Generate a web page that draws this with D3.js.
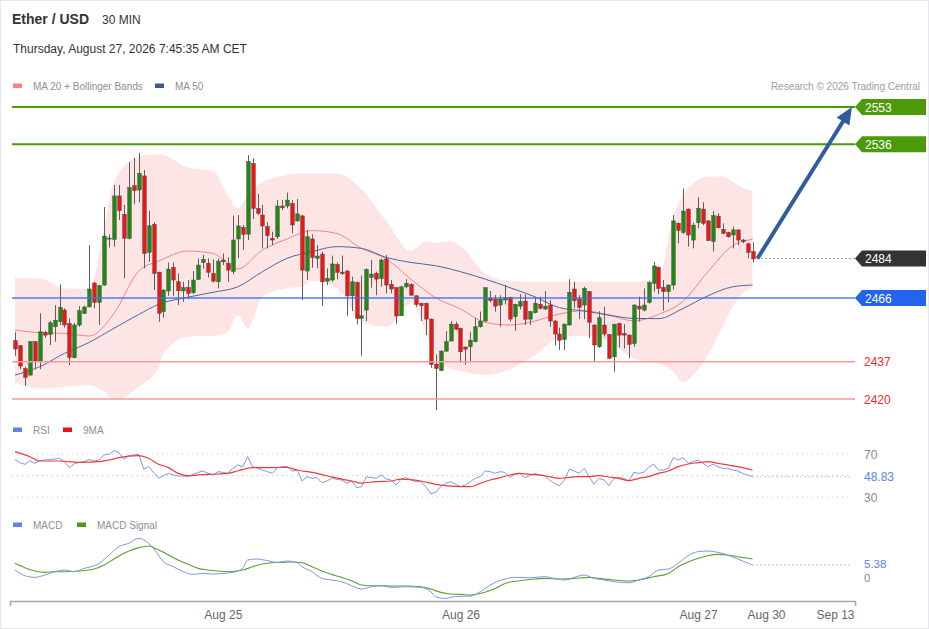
<!DOCTYPE html>
<html lang="en">
<head>
    <meta charset="UTF-8">
    <title>Ether / USD 30 MIN</title>
    <script src="https://d3js.org/d3.v7.min.js"></script>
    <style>
        body { margin: 0; background: #fff; }
        svg { font-family: "Liberation Sans", Arial, sans-serif; display: block; }
    </style>
</head>
<body>
    <div id="chart"></div>
    <script>
        // 30 min candles
        const open = [
            2446.6, 2444.3, 2433.9, 2430.9, 2446.1, 2437.4, 2450.2, 2449.4, 2452.9, 2455.2,
            2460.5, 2454.4, 2438.8, 2453.7, 2459.0, 2462.0, 2472.8, 2464.0, 2471.9, 2492.9,
            2492.7, 2512.5, 2504.1, 2493.2, 2517.2, 2515.2, 2521.6, 2486.8, 2499.5, 2477.7,
            2459.8, 2469.2, 2480.0, 2473.4, 2469.2, 2470.8, 2468.4, 2474.5, 2482.2, 2481.8,
            2477.2, 2473.4, 2483.3, 2481.8, 2478.0, 2492.9, 2498.2, 2495.1, 2527.3, 2506.8,
            2503.8, 2498.5, 2493.2, 2493.9, 2507.9, 2507.9, 2509.1, 2501.1, 2503.4, 2478.3,
            2492.9, 2484.1, 2486.0, 2473.7, 2474.2, 2481.3, 2477.8, 2478.3, 2467.0, 2473.1,
            2456.7, 2460.5, 2475.4, 2477.2, 2474.9, 2483.8, 2472.2, 2470.7, 2457.9, 2471.1,
            2472.2, 2467.0, 2463.5, 2463.5, 2456.4, 2435.9, 2432.9, 2441.8, 2446.4, 2454.1,
            2452.2, 2443.7, 2443.8, 2446.1, 2452.9, 2455.5, 2465.8, 2465.5, 2462.8, 2465.1,
            2466.3, 2457.5, 2462.3, 2464.6, 2456.4, 2459.3, 2463.1, 2461.0, 2462.8, 2455.5,
            2449.6, 2447.1, 2453.7, 2470.1, 2465.5, 2462.8, 2468.9, 2453.7, 2443.8, 2453.7,
            2449.4, 2439.2, 2454.4, 2449.9, 2449.1, 2445.3, 2462.3, 2460.5, 2464.0, 2472.7,
            2480.0, 2470.8, 2468.9, 2471.9, 2500.0, 2495.9, 2506.5, 2492.4, 2500.3, 2506.5,
            2501.1, 2491.7, 2503.3, 2497.3, 2495.8, 2494.7, 2497.0, 2492.4, 2490.7, 2487.1
        ];
        const high = [
            2450.4, 2444.6, 2434.7, 2446.4, 2446.4, 2459.0, 2451.1, 2455.5, 2462.8, 2472.2,
            2461.3, 2456.7, 2454.7, 2462.3, 2462.5, 2490.1, 2473.4, 2471.9, 2507.4, 2495.0,
            2517.5, 2517.5, 2508.4, 2527.8, 2529.9, 2532.1, 2524.3, 2505.8, 2500.5, 2478.0,
            2470.1, 2482.2, 2482.2, 2477.2, 2473.4, 2474.2, 2478.3, 2484.0, 2485.6, 2484.0,
            2483.6, 2484.0, 2486.3, 2484.5, 2503.5, 2503.8, 2499.3, 2531.1, 2529.6, 2513.4,
            2508.4, 2500.5, 2496.2, 2510.6, 2510.6, 2514.0, 2510.6, 2511.1, 2503.8, 2497.0,
            2495.0, 2490.1, 2487.1, 2479.5, 2485.3, 2482.2, 2485.3, 2478.7, 2475.7, 2473.4,
            2476.2, 2479.5, 2483.3, 2478.0, 2484.0, 2485.6, 2474.2, 2471.1, 2471.6, 2474.6,
            2472.7, 2467.3, 2463.9, 2463.9, 2456.7, 2440.3, 2442.3, 2450.9, 2455.5, 2455.2,
            2452.5, 2443.8, 2450.6, 2457.0, 2459.8, 2470.8, 2469.2, 2467.3, 2467.3, 2471.9,
            2466.6, 2463.4, 2467.8, 2467.6, 2460.2, 2466.6, 2466.6, 2469.2, 2465.1, 2456.0,
            2452.5, 2454.4, 2474.6, 2473.4, 2467.3, 2471.1, 2469.2, 2454.0, 2460.0, 2462.0,
            2449.6, 2454.4, 2454.7, 2454.1, 2449.4, 2463.1, 2466.6, 2470.4, 2473.7, 2482.5,
            2480.3, 2474.2, 2472.2, 2503.8, 2500.5, 2515.9, 2506.8, 2500.3, 2511.9, 2509.6,
            2501.5, 2505.6, 2504.6, 2500.0, 2496.2, 2498.5, 2497.3, 2492.9, 2491.2, 2491.4
        ];
        const low = [
            2439.7, 2433.6, 2426.0, 2430.6, 2433.6, 2433.6, 2447.9, 2444.6, 2446.1, 2453.7,
            2452.5, 2435.4, 2438.5, 2452.9, 2458.7, 2461.6, 2461.3, 2453.7, 2471.6, 2489.0,
            2489.4, 2501.5, 2475.0, 2492.7, 2508.7, 2509.6, 2479.5, 2482.5, 2469.6, 2455.2,
            2457.0, 2467.0, 2467.0, 2462.8, 2464.3, 2465.5, 2467.8, 2474.2, 2479.5, 2475.4,
            2473.0, 2470.4, 2481.0, 2473.4, 2476.8, 2484.1, 2487.9, 2492.4, 2502.0, 2503.8,
            2488.6, 2488.6, 2490.1, 2492.9, 2506.1, 2506.8, 2495.5, 2500.8, 2465.1, 2474.2,
            2479.8, 2479.5, 2462.5, 2471.9, 2473.4, 2474.5, 2476.5, 2457.9, 2460.1, 2454.0,
            2439.7, 2455.5, 2470.7, 2467.3, 2471.1, 2468.1, 2468.1, 2454.1, 2457.8, 2470.4,
            2467.0, 2462.0, 2455.5, 2449.1, 2434.2, 2414.9, 2432.7, 2441.5, 2446.1, 2451.4,
            2436.7, 2435.7, 2437.3, 2445.8, 2452.5, 2455.2, 2464.0, 2459.8, 2452.9, 2463.1,
            2455.2, 2451.1, 2460.8, 2453.7, 2453.7, 2459.0, 2460.8, 2460.5, 2452.9, 2444.3,
            2442.3, 2442.3, 2453.4, 2461.3, 2456.4, 2456.4, 2447.6, 2437.0, 2443.3, 2448.4,
            2438.2, 2432.4, 2443.5, 2443.0, 2438.5, 2443.8, 2455.2, 2459.8, 2463.5, 2468.9,
            2467.8, 2460.2, 2464.0, 2469.9, 2490.9, 2495.1, 2489.4, 2488.6, 2497.7, 2499.2,
            2492.1, 2487.1, 2497.7, 2495.0, 2493.5, 2488.6, 2490.1, 2490.9, 2484.1, 2482.2
        ];
        const close = [
            2442.8, 2435.0, 2429.8, 2446.1, 2437.3, 2450.6, 2449.1, 2454.7, 2455.9, 2461.7,
            2453.7, 2438.9, 2453.7, 2460.2, 2461.9, 2470.1, 2464.0, 2471.6, 2494.2, 2493.3,
            2512.5, 2505.8, 2493.2, 2516.3, 2514.9, 2522.8, 2486.3, 2498.9, 2477.2, 2459.0,
            2469.6, 2479.2, 2474.2, 2469.3, 2470.7, 2468.1, 2474.2, 2481.0, 2483.6, 2477.7,
            2473.7, 2482.8, 2482.5, 2478.7, 2492.4, 2498.8, 2495.0, 2528.1, 2506.8, 2504.6,
            2498.8, 2494.4, 2492.4, 2507.9, 2507.1, 2510.6, 2499.3, 2504.3, 2478.7, 2493.9,
            2484.4, 2485.1, 2473.4, 2474.9, 2481.5, 2477.7, 2477.1, 2467.0, 2473.4, 2456.7,
            2457.9, 2479.0, 2476.9, 2474.6, 2483.3, 2471.9, 2470.1, 2457.8, 2471.1, 2472.7,
            2467.3, 2463.1, 2462.5, 2456.4, 2435.7, 2433.9, 2441.8, 2446.1, 2454.1, 2451.8,
            2441.5, 2442.7, 2446.8, 2452.9, 2455.5, 2470.7, 2464.8, 2462.3, 2465.5, 2466.1,
            2456.4, 2463.1, 2464.3, 2456.3, 2459.8, 2463.6, 2461.3, 2462.3, 2455.5, 2449.6,
            2446.8, 2454.1, 2468.6, 2464.8, 2461.7, 2470.4, 2454.9, 2444.6, 2457.0, 2449.6,
            2438.5, 2454.0, 2449.1, 2449.1, 2444.9, 2462.8, 2461.0, 2462.8, 2473.0, 2480.6,
            2470.4, 2468.9, 2471.9, 2501.1, 2496.8, 2505.6, 2494.7, 2499.2, 2506.8, 2500.0,
            2492.1, 2503.5, 2498.0, 2495.5, 2493.9, 2497.0, 2492.4, 2491.7, 2486.8, 2483.8
        ];

        // MA 20 + Bollinger Bands, MA 50 (read at some candles)
        const bbIdx = [0, 5, 10, 15, 18, 20, 25, 29, 30, 35, 40, 43, 45, 47, 50, 55, 58, 60, 65, 70, 75, 80, 83, 85, 88,
            90, 95, 100, 105, 110, 115, 120, 125, 130, 133, 135, 137, 140, 143, 145, 147, 149];
        const bbUpper = [2475.2, 2474.9, 2470.4, 2470.1, 2497.7, 2519.0, 2530.4, 2531.5, 2531.1, 2525.4, 2523.9, 2512.9,
            2506.8, 2512.9, 2518.7, 2522.0, 2522.8, 2522.8, 2522.8, 2515.5, 2501.1, 2487.4, 2491.7, 2491.2, 2491.7,
            2489.7, 2477.2, 2473.7, 2473.4, 2473.4, 2473.4, 2473.4, 2473.4, 2474.9, 2503.0, 2512.9, 2518.2, 2521.3,
            2521.3, 2519.0, 2516.3, 2514.7];
        const bbLower = [2427.5, 2424.8, 2425.6, 2426.3, 2423.3, 2419.5, 2425.6, 2433.9, 2440.8, 2448.4, 2448.8, 2450.6,
            2458.2, 2452.2, 2466.6, 2470.4, 2471.1, 2473.7, 2470.4, 2455.2, 2452.9, 2463.5, 2450.6, 2438.5, 2433.9,
            2432.7, 2430.9, 2433.6, 2440.0, 2447.9, 2448.8, 2446.1, 2438.5, 2436.2, 2432.4, 2427.5, 2430.9, 2440.0,
            2452.9, 2462.0, 2468.1, 2470.4];
        const maIdx = [0, 5, 10, 15, 20, 25, 29, 35, 40, 45, 50, 55, 60, 65, 70, 75, 80, 85, 90, 95, 100, 105, 110, 115,
            120, 125, 130, 135, 140, 145, 149];
        const ma20 = [2451.4, 2450.2, 2449.9, 2448.7, 2459.0, 2478.3, 2482.8, 2487.4, 2486.3, 2479.2, 2487.9, 2492.9,
            2496.7, 2495.4, 2488.6, 2483.8, 2474.5, 2466.1, 2461.0, 2454.9, 2453.7, 2455.5, 2458.7, 2460.2, 2458.2,
            2455.6, 2458.5, 2464.6, 2478.0, 2489.8, 2492.7];
        const ma50 = [2430.9, 2434.7, 2440.8, 2445.8, 2452.2, 2458.5, 2463.1, 2466.4, 2468.6, 2471.1, 2478.0, 2484.1,
            2487.1, 2489.4, 2488.6, 2484.5, 2482.2, 2480.7, 2478.0, 2474.6, 2470.7, 2466.6, 2461.6, 2460.1, 2458.2,
            2456.7, 2456.6, 2461.3, 2467.0, 2471.1, 2471.9];

        // RSI (every candle) and its 9MA
        const rsi = [
            65.0, 61.9, 60.4, 63.5, 61.3, 63.8, 64.4, 65.0, 65.3, 66.0,
            62.9, 57.3, 61.0, 62.2, 62.9, 65.0, 63.5, 64.4, 69.1, 69.7,
            73.1, 71.2, 65.0, 68.4, 69.1, 69.7, 56.0, 58.2, 52.9, 47.4,
            49.8, 52.0, 50.5, 49.5, 49.5, 48.9, 51.1, 52.9, 54.2, 52.0,
            50.5, 53.6, 52.9, 52.0, 56.7, 59.8, 58.2, 67.5, 58.2, 56.7,
            55.1, 53.6, 52.0, 57.3, 58.2, 58.2, 54.2, 55.1, 44.9, 48.9,
            47.4, 48.0, 43.3, 44.9, 47.4, 46.4, 45.8, 42.7, 44.9, 38.7,
            39.6, 48.9, 48.0, 47.4, 50.5, 46.7, 45.8, 41.2, 46.7, 48.0,
            45.8, 44.3, 44.3, 39.6, 33.1, 34.3, 39.6, 42.7, 44.3, 41.8,
            39.6, 41.2, 44.3, 47.4, 48.9, 54.2, 53.6, 52.0, 53.6, 52.9,
            48.0, 51.1, 52.0, 48.0, 49.8, 52.0, 50.5, 49.5, 45.8, 42.7,
            40.5, 45.8, 56.0, 54.2, 52.0, 56.7, 48.9, 41.8, 47.4, 45.8,
            40.5, 47.4, 48.0, 47.4, 44.9, 52.9, 52.0, 52.9, 57.3, 60.7,
            55.1, 55.1, 56.7, 66.6, 64.4, 66.6, 61.3, 62.9, 64.4, 61.3,
            58.2, 60.4, 58.2, 56.7, 56.7, 55.1, 54.2, 52.0, 50.5, 48.83
        ];
        const rsiMaIdx = [0, 3, 5, 9, 13, 17, 19, 21, 25, 27, 29, 31, 33, 35, 37, 41, 43, 45, 48, 52, 55, 57, 60, 63, 66,
            68, 70, 73, 76, 78, 82, 85, 87, 90, 92, 94, 96, 98, 100, 102, 104, 106, 108, 110, 112, 114, 116, 118, 120,
            122, 124, 126, 128, 130, 132, 134, 136, 138, 140, 142, 144, 146, 149];
        const rsiMa = [72.2, 67.5, 63.5, 63.5, 62.2, 62.9, 64.4, 66.6, 68.4, 66.0, 60.4, 57.3, 52.0, 49.8, 50.5, 51.4,
            52.0, 54.2, 57.3, 57.3, 57.6, 55.1, 52.9, 49.8, 46.7, 44.9, 43.0, 44.3, 44.9, 46.7, 44.9, 41.8, 40.5, 39.6,
            39.6, 42.7, 45.8, 48.0, 50.5, 52.0, 51.1, 50.5, 48.9, 47.4, 48.3, 48.9, 48.9, 49.8, 48.6, 47.4, 45.2, 47.4,
            48.9, 52.0, 54.2, 58.2, 60.7, 61.9, 62.9, 61.3, 59.8, 58.2, 55.1];

        // MACD and signal
        const macdIdx = [0, 2, 4, 6, 8, 10, 12, 14, 16, 17, 19, 21, 23, 25, 27, 28, 30, 32, 34, 36, 38, 40, 42, 44, 46, 47,
            49, 51, 53, 55, 57, 58, 60, 62, 64, 66, 68, 70, 72, 74, 76, 79, 82, 84, 85, 87, 89, 92, 94, 96, 99, 101, 104,
            107, 109, 111, 113, 115, 117, 119, 121, 124, 126, 128, 130, 132, 134, 136, 138, 140, 142, 144, 146, 149];
        const macd = [2.92, 0.14, -0.68, 0.47, 2.10, 2.92, 2.10, 3.74, 5.04, 6.19, 10.27, 14.36, 16.0, 18.44, 16.0, 13.54,
            7.0, 4.55, 2.1, 0.79, 1.28, 0.96, 1.28, 1.77, 3.74, 7.82, 8.31, 7.5, 6.68, 7.33, 6.51, 4.55, 2.1, -1.17,
            -1.98, -2.8, -4.76, -6.39, -5.25, -4.76, -5.58, -5.25, -5.58, -7.7, -10.15, -10.97, -10.0, -9.83, -7.7,
            -4.43, -1.49, -0.68, -0.84, -0.35, -1.17, -1.98, -0.68, 0.47, -1.17, -1.98, -2.8, -3.29, -1.98, -0.35,
            2.92, 3.41, 6.19, 9.94, 11.9, 12.23, 11.58, 10.27, 8.31, 5.38];
        const sigIdx = [0, 2, 4, 6, 8, 10, 13, 16, 18, 20, 22, 25, 27, 28, 30, 32, 35, 37, 39, 41, 43, 46, 48, 50, 52, 54,
            56, 58, 60, 62, 64, 66, 68, 70, 72, 74, 76, 79, 82, 84, 86, 88, 90, 92, 94, 97, 99, 102, 105, 107, 110, 113,
            116, 118, 121, 124, 126, 129, 132, 134, 137, 140, 142, 144, 146, 149];
        const signal = [6.19, 4.06, 2.43, 1.77, 2.1, 2.1, 2.43, 3.41, 5.37, 8.31, 11.09, 13.87, 14.68, 13.87, 11.58, 8.97,
            5.7, 3.74, 2.92, 2.43, 2.1, 2.92, 4.55, 5.86, 6.51, 6.68, 6.84, 6.51, 4.55, 2.43, 0.79, -0.68, -2.31, -4.43,
            -4.76, -4.76, -4.92, -4.92, -5.25, -6.39, -8.02, -8.84, -9.0, -9.34, -8.52, -6.07, -3.62, -2.31, -1.49,
            -1.17, -1.49, -1.17, -0.68, -1.17, -1.98, -2.47, -1.98, -0.35, 1.28, 4.55, 7.82, 9.94, 10.6, 10.27, 9.45, 8.31];

        // levels and axis labels
        const resistances = [2553, 2536];
        const pivot = 2466;
        const supports = [2437, 2420];
        const lastPrice = 2484;
        const lastRsi = 48.83;
        const lastMacd = 5.38;
        const rsiLevels = [70, 50, 30];
        const tickLabels = ["Aug 25", "Aug 26", "Aug 27", "Aug 30", "Sep 13"];
        const tickIdx = [42, 90, 138, 282, 954];

        const W = 929, H = 629;
        const svg = d3.select("#chart").append("svg").attr("width", W).attr("height", H);

        svg.append("rect").attr("x", 0.5).attr("y", 0.5).attr("width", W - 1).attr("height", H - 1)
            .attr("fill", "#fff").attr("stroke", "#e6e8eb");

        const n = open.length;
        const xs = d3.scaleLinear().domain([0, n - 1]).range([15, 752.5]);
        const yp = d3.scaleLinear().domain([2420, 2553]).range([399, 107]);
        const yr = d3.scaleLinear().domain([30, 70]).range([497, 454]);
        const ym = d3.scaleLinear().domain([0, 5.38]).range([576, 565]);
        const lineLeft = 12, lineRight = 855;

        // header
        svg.append("text").attr("x", 12).attr("y", 24).attr("font-size", 14).attr("font-weight", "bold")
            .attr("fill", "#333").text("Ether / USD");
        svg.append("text").attr("x", 102).attr("y", 24).attr("font-size", 12).attr("fill", "#333").text("30 MIN");
        svg.append("text").attr("x", 13).attr("y", 53).attr("font-size", 12).attr("fill", "#333")
            .text("Thursday, August 27, 2026 7:45:35 AM CET");

        function legend(y, items) {
            items.forEach(it => {
                svg.append("rect").attr("x", it.x).attr("y", y - 2.5).attr("width", 9).attr("height", 4.5)
                    .attr("fill", it.color);
                svg.append("text").attr("x", it.x + 20).attr("y", y + 3.5).attr("font-size", 10)
                    .attr("fill", "#8a8f96").text(it.label);
            });
        }
        legend(86, [{ x: 13, color: "#ff7f7f", label: "MA 20 + Bollinger Bands" },
                    { x: 155, color: "#38599c", label: "MA 50" }]);
        svg.append("text").attr("x", 920).attr("y", 89.5).attr("font-size", 10).attr("text-anchor", "end")
            .attr("fill", "#9a9ea4").text("Research \u00a9 2026 Trading Central");

        // bollinger band fill + moving averages
        const bb = bbIdx.map((d, i) => ({ i: d, u: bbUpper[i], l: bbLower[i] }));
        svg.append("path").datum(bb)
            .attr("fill", "#fee5e5")
            .attr("d", d3.area().x(d => xs(d.i)).y0(d => yp(d.l)).y1(d => yp(d.u)).curve(d3.curveMonotoneX));

        const maLine = d3.line().x(d => xs(d[0])).y(d => yp(d[1])).curve(d3.curveMonotoneX);
        svg.append("path").datum(maIdx.map((d, i) => [d, ma20[i]]))
            .attr("fill", "none").attr("stroke", "#f58383").attr("stroke-width", 1).attr("d", maLine);
        svg.append("path").datum(maIdx.map((d, i) => [d, ma50[i]]))
            .attr("fill", "none").attr("stroke", "#4a679f").attr("stroke-width", 1).attr("d", maLine);

        // candles
        const candles = d3.range(n).map(i => ({ i, o: open[i], h: high[i], l: low[i], c: close[i] }));
        const cg = svg.append("g");
        cg.selectAll("line").data(candles).enter().append("line")
            .attr("x1", d => Math.round(xs(d.i)) + 0.5).attr("x2", d => Math.round(xs(d.i)) + 0.5)
            .attr("y1", d => yp(d.h)).attr("y2", d => yp(d.l))
            .attr("stroke", "#5e5e5e").attr("stroke-width", 1);
        cg.selectAll("rect").data(candles).enter().append("rect")
            .attr("x", d => Math.round(xs(d.i)) + 0.5 - 1.8)
            .attr("width", 3.6)
            .attr("y", d => yp(Math.max(d.o, d.c)))
            .attr("height", d => Math.max(1, Math.abs(yp(d.o) - yp(d.c))))
            .attr("fill", d => d.c >= d.o ? "#1f8a12" : "#f01515")
            .attr("stroke", "#4a4a4a").attr("stroke-width", 0.5);

        // horizontal levels
        resistances.forEach(v => {
            svg.append("line").attr("x1", lineLeft).attr("x2", lineRight).attr("y1", yp(v)).attr("y2", yp(v))
                .attr("stroke", "#4c9a0a").attr("stroke-width", 2);
        });
        svg.append("line").attr("x1", lineLeft).attr("x2", lineRight).attr("y1", yp(pivot)).attr("y2", yp(pivot))
            .attr("stroke", "#3b6ff0").attr("stroke-width", 1.5).attr("opacity", 0.9);
        supports.forEach(v => {
            svg.append("line").attr("x1", lineLeft).attr("x2", lineRight).attr("y1", yp(v)).attr("y2", yp(v))
                .attr("stroke", "#f69a9a").attr("stroke-width", 1.5);
        });

        // last price dotted line
        svg.append("line").attr("x1", xs(n - 1) + 5).attr("x2", lineRight).attr("y1", yp(lastPrice)).attr("y2", yp(lastPrice))
            .attr("stroke", "#444").attr("stroke-width", 1).attr("stroke-dasharray", "1,3");

        // projection arrow
        const ax0 = xs(n - 1) + 5, ay0 = yp(lastPrice), ax1 = 852, ay1 = yp(resistances[0]);
        const len = Math.hypot(ax1 - ax0, ay1 - ay0);
        const ux = (ax1 - ax0) / len, uy = (ay1 - ay0) / len;
        const hl = 17, hw = 7.5;
        const bx = ax1 - ux * hl, by = ay1 - uy * hl;
        svg.append("line").attr("x1", ax0).attr("y1", ay0).attr("x2", bx + ux * 2).attr("y2", by + uy * 2)
            .attr("stroke", "#2f5e9e").attr("stroke-width", 4);
        svg.append("path")
            .attr("d", `M${ax1},${ay1}L${bx - uy * hw},${by + ux * hw}L${bx + uy * hw},${by - ux * hw}Z`)
            .attr("fill", "#2f5e9e");

        // price tags
        function tag(v, color) {
            const y = yp(v);
            svg.append("path")
                .attr("d", `M${lineRight},${y}L${lineRight + 7},${y - 8}H926V${y + 8}H${lineRight + 7}Z`)
                .attr("fill", color);
            svg.append("text").attr("x", 865).attr("y", y + 4.5).attr("font-size", 12)
                .attr("fill", "#fff").text(v);
        }
        resistances.forEach(v => tag(v, "#4c9a0a"));
        tag(lastPrice, "#333333");
        tag(pivot, "#2364ee");
        supports.forEach(v => {
            svg.append("text").attr("x", 864).attr("y", yp(v) + 4.5).attr("font-size", 12)
                .attr("fill", "#ee2a2a").text(v);
        });

        // RSI panel
        legend(430, [{ x: 13, color: "#5c86e6", label: "RSI" }, { x: 63, color: "#ee1111", label: "9MA" }]);
        rsiLevels.forEach(v => {
            svg.append("line").attr("x1", lineLeft).attr("x2", 852).attr("y1", yr(v)).attr("y2", yr(v))
                .attr("stroke", "#c4c4c4").attr("stroke-width", 1).attr("stroke-dasharray", "1,4");
        });
        svg.append("line").attr("x1", xs(n - 1)).attr("x2", 852).attr("y1", yr(lastRsi)).attr("y2", yr(lastRsi))
            .attr("stroke", "#7d9de8").attr("stroke-width", 1).attr("stroke-dasharray", "1,3");
        svg.append("path").datum(rsi)
            .attr("fill", "none").attr("stroke", "#7b98e6").attr("stroke-width", 1)
            .attr("d", d3.line().x((d, i) => xs(i)).y(d => yr(d)));
        svg.append("path").datum(rsiMaIdx.map((d, i) => [d, rsiMa[i]]))
            .attr("fill", "none").attr("stroke", "#f03a3a").attr("stroke-width", 1.2)
            .attr("d", d3.line().x(d => xs(d[0])).y(d => yr(d[1])).curve(d3.curveMonotoneX));
        [[70, "#8a8a8a"], [lastRsi, "#5b84e6"], [30, "#8a8a8a"]].forEach(([v, c]) => {
            svg.append("text").attr("x", 864).attr("y", yr(v) + 4.5).attr("font-size", 12)
                .attr("fill", c).text(v);
        });

        // MACD panel
        legend(525, [{ x: 13, color: "#5c86e6", label: "MACD" }, { x: 77, color: "#4a9a14", label: "MACD Signal" }]);
        svg.append("line").attr("x1", xs(n - 1)).attr("x2", 852).attr("y1", ym(lastMacd)).attr("y2", ym(lastMacd))
            .attr("stroke", "#7d9de8").attr("stroke-width", 1).attr("stroke-dasharray", "1,3");
        svg.append("path").datum(sigIdx.map((d, i) => [d, signal[i]]))
            .attr("fill", "none").attr("stroke", "#5ca032").attr("stroke-width", 1.1)
            .attr("d", d3.line().x(d => xs(d[0])).y(d => ym(d[1])).curve(d3.curveMonotoneX));
        svg.append("path").datum(macdIdx.map((d, i) => [d, macd[i]]))
            .attr("fill", "none").attr("stroke", "#7b98e6").attr("stroke-width", 1)
            .attr("d", d3.line().x(d => xs(d[0])).y(d => ym(d[1])).curve(d3.curveMonotoneX));
        [[lastMacd, "#5b84e6", 2.5], [0, "#8a8a8a", 6]].forEach(([v, c, dy]) => {
            svg.append("text").attr("x", 864).attr("y", ym(v) + dy).attr("font-size", 11.5)
                .attr("fill", c).text(v);
        });

        // time axis (data part, then compressed future)
        const xAxisScale = d3.scaleLinear()
            .domain([-1, n - 1, tickIdx[3], tickIdx[4], 1100])
            .range([xs(-1), xs(n - 1), 766, 835, lineRight]);
        const xAxis = svg.append("g").attr("transform", "translate(0,601)")
            .call(d3.axisBottom(xAxisScale).tickValues(tickIdx).tickFormat((d, i) => tickLabels[i])
                .tickSizeInner(0).tickSizeOuter(5).tickPadding(9));
        xAxis.select(".domain").attr("stroke", "#a8a8a8").attr("stroke-width", 1.5);
        xAxis.selectAll("text").attr("font-size", 12).attr("fill", "#666")
            .attr("font-family", "'Liberation Sans', Arial, sans-serif");
    </script>
</body>
</html>
